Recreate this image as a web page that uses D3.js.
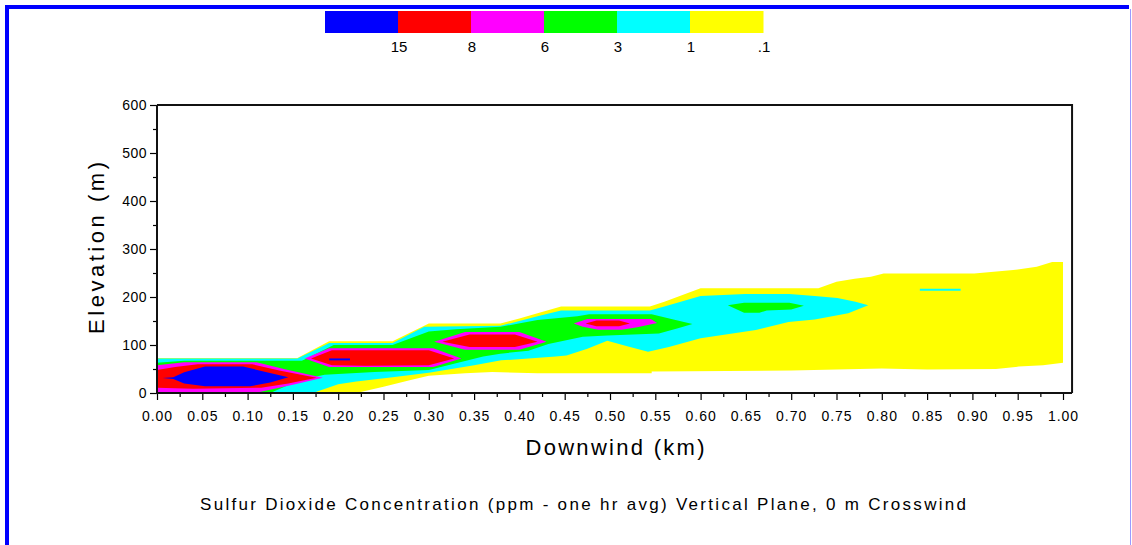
<!DOCTYPE html>
<html>
<head>
<meta charset="utf-8">
<script src="https://cdn.jsdelivr.net/npm/d3@7"></script>
<style>
  body { margin: 0; background: #fff; }
  svg { display: block; font-family: "Liberation Sans", Arial, sans-serif; }
</style>
</head>
<body>
<svg id="chart" width="1132" height="545"></svg>
<script>
// legend classes (ppm), highest first
const legendLabels = ["15", "8", "6", "3", "1", ".1"];
const legendColors = ["#0000ff", "#ff0000", "#ff00ff", "#00ff00", "#00ffff", "#ffff00"];

const xTickValues = [0, 0.05, 0.1, 0.15, 0.2, 0.25, 0.3, 0.35, 0.4, 0.45, 0.5,
  0.55, 0.6, 0.65, 0.7, 0.75, 0.8, 0.85, 0.9, 0.95, 1.0];
const yTickValues = [0, 100, 200, 300, 400, 500, 600];

// contour regions, [downwind km, elevation m]
const yellowZone = [
  [[0, 73], [0.155, 73], [0.19, 108], [0.26, 108], [0.30, 145], [0.379, 145], [0.40, 155],
   [0.42, 166], [0.446, 180], [0.544, 180], [0.56, 190], [0.60, 218], [0.73, 218], [0.75, 232],
   [0.77, 238], [0.788, 242], [0.802, 249], [0.902, 249], [0.945, 256], [0.971, 263],
   [0.988, 273], [1.0, 273], [1.0, 63], [0.978, 58], [0.951, 55], [0.926, 50], [0.85, 49],
   [0.80, 51], [0.70, 47], [0.546, 45], [0.546, 41], [0.42, 41], [0.37, 44], [0.34, 41],
   [0.30, 36], [0.28, 27], [0.25, 13], [0.22, 0], [0, 0]]
];
const cyanZone = [
  [[0, 72], [0.155, 72], [0.19, 104], [0.26, 104], [0.295, 138], [0.379, 140], [0.40, 150],
   [0.42, 160], [0.446, 172], [0.544, 172], [0.56, 180], [0.60, 202], [0.649, 206],
   [0.698, 206], [0.726, 202], [0.751, 198], [0.771, 190], [0.785, 183], [0.763, 166],
   [0.726, 153], [0.697, 148], [0.661, 131], [0.60, 114], [0.565, 96], [0.542, 86],
   [0.52, 97], [0.497, 109], [0.475, 92], [0.452, 78], [0.44, 76], [0.38, 68], [0.35, 58],
   [0.30, 42], [0.26, 33], [0.22, 24], [0.20, 18], [0.172, 0], [0, 0]],
  [[0.842, 213], [0.887, 213], [0.887, 217], [0.842, 217]]
];
const greenZone = [
  [[0, 63], [0.03, 67], [0.16, 67], [0.195, 100], [0.26, 100], [0.30, 128], [0.33, 133],
   [0.379, 138], [0.42, 152], [0.464, 160], [0.477, 164], [0.546, 164], [0.57, 153],
   [0.591, 144], [0.575, 135], [0.554, 124], [0.497, 120], [0.47, 117], [0.432, 102],
   [0.41, 88], [0.379, 82], [0.36, 76], [0.33, 62], [0.30, 48], [0.24, 44], [0.185, 38],
   [0.158, 27], [0.125, 0], [0, 0]],
  [[0.63, 183], [0.648, 188], [0.698, 188], [0.714, 182], [0.70, 174], [0.673, 172],
   [0.665, 167], [0.648, 167]]
];
const magentaZone = [
  [[0, 0], [0, 58], [0.03, 64], [0.11, 64], [0.14, 50], [0.183, 32], [0.15, 17], [0.108, 0]],
  [[0.163, 72], [0.19, 93], [0.305, 93], [0.336, 72], [0.305, 54], [0.19, 54]],
  [[0.306, 107], [0.34, 127], [0.40, 127], [0.43, 107], [0.40, 90], [0.34, 90]],
  [[0.46, 145], [0.475, 154], [0.545, 154], [0.552, 146], [0.53, 137], [0.513, 132],
   [0.487, 132], [0.47, 138]]
];
const redZone = [
  [[0, 11], [0, 48], [0.02, 54], [0.045, 60], [0.105, 60], [0.135, 47], [0.176, 32],
   [0.145, 20], [0.115, 11], [0.04, 9]],
  [[0.17, 72], [0.193, 89], [0.30, 89], [0.328, 72], [0.30, 58], [0.23, 57], [0.193, 58]],
  [[0.315, 107], [0.345, 122], [0.395, 122], [0.42, 107], [0.395, 96], [0.345, 96]],
  [[0.473, 145], [0.485, 151], [0.51, 151], [0.522, 145], [0.51, 139], [0.485, 139]]
];
const blueZone = [
  [[0.006, 31], [0.018, 33], [0.03, 43], [0.053, 55], [0.095, 55], [0.12, 44], [0.145, 33],
   [0.125, 22], [0.103, 14], [0.053, 14], [0.03, 20], [0.018, 29]],
  [[0.19, 68], [0.213, 68], [0.213, 72], [0.19, 72]]
];

const svg = d3.select("#chart");

const x = d3.scaleLinear().domain([0, 1]).range([157, 1063]);
const y = d3.scaleLinear().domain([0, 600]).range([393, 105]);
const xEnd = 1.01; // frame runs a little past the last tick

// outer blue window border
svg.append("path")
  .attr("d", "M7,545V7H1129")
  .attr("fill", "none")
  .attr("stroke", "#0000ff")
  .attr("stroke-width", 4);
svg.append("line")
  .attr("x1", 1130.5).attr("x2", 1130.5).attr("y1", 9).attr("y2", 545)
  .attr("stroke", "#9a9aff");

// legend
const lx = d3.scaleBand().domain(d3.range(legendLabels.length)).range([325, 763]);
const legend = svg.append("g");
legend.selectAll("rect")
  .data(legendColors)
  .join("rect")
  .attr("x", (d, i) => lx(i))
  .attr("y", 11)
  .attr("width", lx.bandwidth() + 0.5)
  .attr("height", 22)
  .attr("fill", (d) => d);
legend.selectAll("text")
  .data(legendLabels)
  .join("text")
  .attr("x", (d, i) => lx(i) + lx.bandwidth() + 1)
  .attr("y", 52)
  .attr("text-anchor", "middle")
  .attr("font-size", 15)
  .text((d) => d);

// contour fills
svg.append("clipPath").attr("id", "plot-clip")
  .append("rect")
  .attr("x", x(0)).attr("y", y(600))
  .attr("width", x(xEnd) - x(0)).attr("height", y(0) - y(600));

const line = d3.line().x((d) => x(d[0])).y((d) => y(d[1]));
const zones = [yellowZone, cyanZone, greenZone, magentaZone, redZone, blueZone];
const zoneColors = legendColors.slice().reverse();

const plot = svg.append("g").attr("clip-path", "url(#plot-clip)");
zones.forEach((polys, i) => {
  plot.append("g")
    .selectAll("path")
    .data(polys)
    .join("path")
    .attr("d", (d) => line(d) + "Z")
    .attr("fill", zoneColors[i]);
});

// axes
const xAxis = svg.append("g")
  .attr("transform", `translate(0,${y(0)})`)
  .call(d3.axisBottom(x).tickValues(xTickValues).tickFormat(d3.format(".2f"))
    .tickSize(7).tickPadding(11).tickSizeOuter(0));
svg.append("g")
  .attr("transform", `translate(0,${y(0)})`)
  .call(d3.axisBottom(x).tickValues(xTickValues.slice(0, -1).map((d) => d + 0.025))
    .tickFormat("").tickSize(4).tickSizeOuter(0));

const yAxis = svg.append("g")
  .attr("transform", `translate(${x(0)},0)`)
  .call(d3.axisLeft(y).tickValues(yTickValues).tickFormat((d) => d)
    .tickSize(7).tickPadding(3).tickSizeOuter(0));
svg.append("g")
  .attr("transform", `translate(${x(0)},0)`)
  .call(d3.axisLeft(y).tickValues(yTickValues.slice(0, -1).map((d) => d + 50))
    .tickFormat("").tickSize(4).tickSizeOuter(0));

svg.selectAll(".domain").remove();
svg.selectAll(".tick line").attr("stroke", "#000").attr("stroke-width", 1.2);
xAxis.selectAll("text").attr("font-size", 14).attr("letter-spacing", 1).attr("fill", "#000");
yAxis.selectAll("text").attr("font-size", 14).attr("letter-spacing", 0.5).attr("fill", "#000");

// frame
const frame = svg.append("g").attr("stroke", "#111").attr("stroke-width", 2).attr("fill", "none");
frame.append("path").attr("d", `M${x(0)},${y(600)}V${y(0)}H${x(xEnd)}`);
frame.append("path").attr("d", `M${x(0)},${y(600)}H${x(xEnd)}V${y(0)}`);

// titles
svg.append("text")
  .attr("x", 615).attr("y", 455)
  .attr("text-anchor", "middle")
  .attr("font-size", 22)
  .attr("textLength", 179).attr("lengthAdjust", "spacing")
  .text("Downwind (km)");

svg.append("text")
  .attr("transform", "translate(104,248) rotate(-90)")
  .attr("text-anchor", "middle")
  .attr("font-size", 22)
  .attr("textLength", 172).attr("lengthAdjust", "spacing")
  .text("Elevation (m)");

svg.append("text")
  .attr("x", 583).attr("y", 510)
  .attr("text-anchor", "middle")
  .attr("font-size", 17)
  .attr("textLength", 766).attr("lengthAdjust", "spacing")
  .text("Sulfur Dioxide Concentration (ppm - one hr avg) Vertical Plane, 0 m Crosswind");
</script>
</body>
</html>
